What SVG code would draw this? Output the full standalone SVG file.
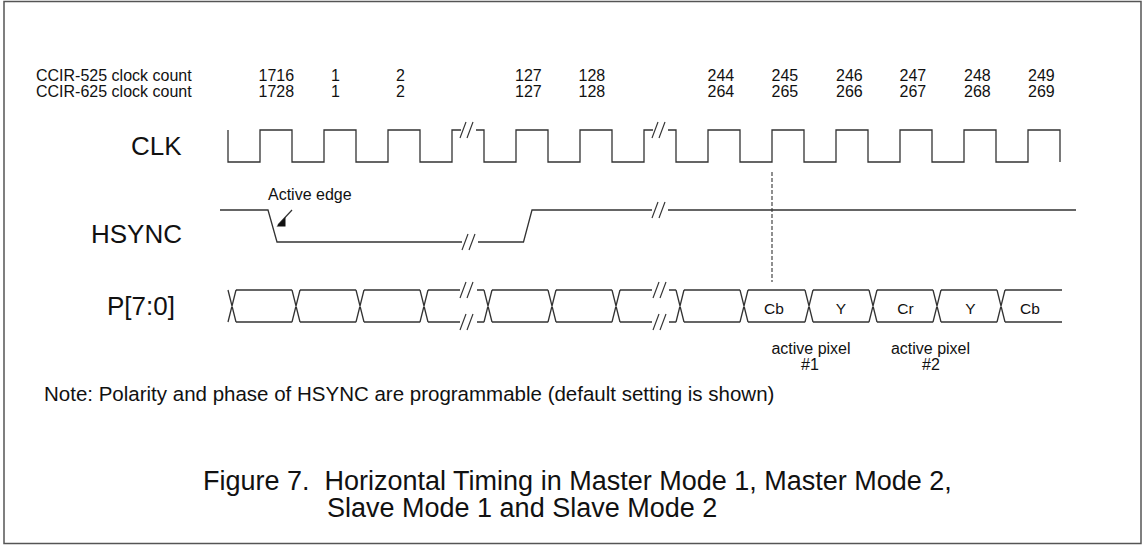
<svg xmlns="http://www.w3.org/2000/svg" width="1148" height="547" viewBox="0 0 1148 547">
<style>
text{font-family:"Liberation Sans",Arial,sans-serif;fill:#111}
.cnt{font-size:16px}
.big{font-size:26px}
.sm{font-size:15.5px}
.w{fill:none;stroke:#333;stroke-width:1.3;stroke-linejoin:miter}
.brk{fill:none;stroke:#333;stroke-width:1.2}
</style>
<defs>
<g id="brk"><line class="brk" x1="-8" y1="8" x2="-2" y2="-8"/><line class="brk" x1="-1" y1="8" x2="5" y2="-8"/></g>
</defs>
<rect x="4" y="1.5" width="1137" height="542" fill="#fff" stroke="#555" stroke-width="1.5"/>
<g id="counts" class="cnt">
<text x="36" y="81">CCIR-525 clock count</text>
<text x="36" y="96.5">CCIR-625 clock count</text>
<text x="258.5" y="81">1716</text><text x="258.5" y="96.5">1728</text>
<text x="331" y="81">1</text><text x="331" y="96.5">1</text>
<text x="396" y="81">2</text><text x="396" y="96.5">2</text>
<text x="515" y="81">127</text><text x="515" y="96.5">127</text>
<text x="578.5" y="81">128</text><text x="578.5" y="96.5">128</text>
<text x="707.5" y="81">244</text><text x="707.5" y="96.5">264</text>
<text x="771.5" y="81">245</text><text x="771.5" y="96.5">265</text>
<text x="836" y="81">246</text><text x="836" y="96.5">266</text>
<text x="899.5" y="81">247</text><text x="899.5" y="96.5">267</text>
<text x="964" y="81">248</text><text x="964" y="96.5">268</text>
<text x="1028" y="81">249</text><text x="1028" y="96.5">269</text>
</g>
<g id="clk">
<text class="big" x="131" y="155">CLK</text>
<path class="w" d="M228,130V162H260V130H292V162H324V130H356V162H388V130H420V162H452V130H461M476,130H484V162H516V130H548V162H580V130H612V162H644V130H653M668,130H676V162H708V130H740V162H772V130H804V162H836V130H868V162H900V130H932V162H964V130H996V162H1028V130H1060V162"/>
<use href="#brk" x="468" y="130"/>
<use href="#brk" x="660" y="130"/>
</g>
<g id="hsync">
<text class="big" x="91" y="243">HSYNC</text>
<path class="w" d="M220,210H268L277,242H462M478,242H523.5L532,210H652M668,210H1076"/>
<use href="#brk" x="470" y="242"/>
<use href="#brk" x="660" y="210"/>
<text class="cnt" x="268" y="200">Active edge</text>
</g>
<g id="bus">
<text class="big" x="107" y="315">P[7:0]</text>
<path class="w" d="M228,290L236,322M228,322L236,290M236,290H292M236,322H292M292,290L300,322M292,322L300,290M300,290H356M300,322H356M356,290L364,322M356,322L364,290M364,290H420M364,322H420M420,290L428,322M420,322L428,290M428,290H460M428,322H460M477,290H484M477,322H484M484,290L492,322M484,322L492,290M492,290H548M492,322H548M548,290L556,322M548,322L556,290M556,290H612M556,322H612M612,290L620,322M612,322L620,290M620,290H652M620,322H652M669,290H676M669,322H676M676,290L684,322M676,322L684,290M684,290H740M684,322H740M740,290L748,322M740,322L748,290M748,290H805M748,322H805M805,290L813,322M805,322L813,290M813,290H869M813,322H869M869,290L877,322M869,322L877,290M877,290H933M877,322H933M933,290L941,322M933,322L941,290M941,290H997M941,322H997M997,290L1005,322M997,322L1005,290M1005,290H1062M1005,322H1062"/>
<use href="#brk" x="468" y="290"/>
<use href="#brk" x="468" y="322"/>
<use href="#brk" x="661" y="290"/>
<use href="#brk" x="661" y="322"/>
<g class="sm" text-anchor="middle">
<text x="774" y="313.5">Cb</text>
<text x="841" y="313.5">Y</text>
<text x="905.5" y="313.5">Cr</text>
<text x="970.5" y="313.5">Y</text>
<text x="1030" y="313.5">Cb</text>
</g>
<g class="cnt" text-anchor="middle">
<text x="811" y="353.5">active pixel</text>
<text x="810" y="369.5">#1</text>
<text x="930.5" y="353.5">active pixel</text>
<text x="931" y="369.5">#2</text>
</g>
</g>
<g id="connectors">
<line x1="772" y1="172" x2="772" y2="282" stroke="#333" stroke-width="1.1" stroke-dasharray="4 2"/>
<line x1="292" y1="210" x2="278" y2="225" stroke="#333" stroke-width="1.2"/>
<polygon points="276.5,226.5 285.5,226.5 285.5,217" fill="#111"/>
</g>
<g id="notes">
<text x="44" y="400.5" style="font-size:20.5px">Note: Polarity and phase of HSYNC are programmable (default setting is shown)</text>
<text x="203" y="489.5" style="font-size:27px;white-space:pre" xml:space="preserve">Figure 7.  Horizontal Timing in Master Mode 1, Master Mode 2,</text>
<text x="327" y="517" style="font-size:27px">Slave Mode 1 and Slave Mode 2</text>
</g>
</svg>
